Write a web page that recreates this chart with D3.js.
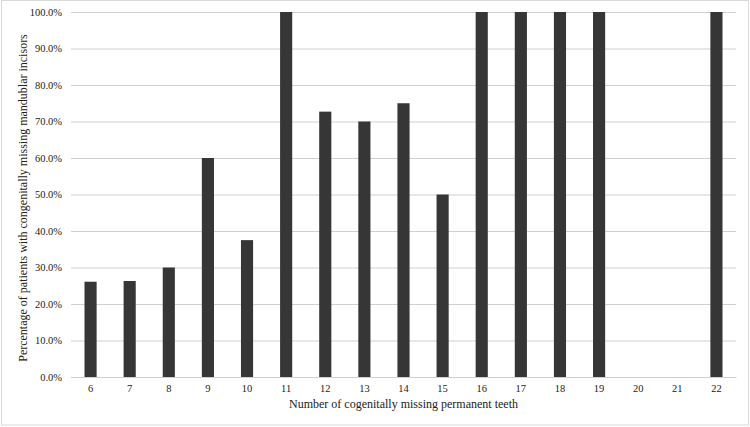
<!DOCTYPE html>
<html>
<head>
<meta charset="utf-8">
<script src="https://cdn.jsdelivr.net/npm/d3@7"></script>
</head>
<body style="margin:0">
<div id="chart"></div>
<script>
// data
const missingTeeth = ['6', '7', '8', '9', '10', '11', '12', '13', '14', '15', '16', '17', '18', '19', '20', '21', '22']
const percentIncisors = [26.1, 26.3, 30.0, 60.0, 37.5, 100, 72.7, 70.0, 75.0, 50.0, 100, 100, 100, 100, 0, 0, 100]
const yTicks = [0, 10, 20, 30, 40, 50, 60, 70, 80, 90, 100]

const width = 750, height = 427
const margin = { top: 12, right: 14, bottom: 50, left: 71 }

const svg = d3.select('#chart').append('svg')
  .attr('width', width)
  .attr('height', height)

// outer frame
svg.append('rect')
  .attr('x', 1.5).attr('y', 0.5)
  .attr('width', width - 3).attr('height', height - 2.5)
  .attr('fill', 'none')
  .attr('stroke', '#d9d9d9')

const x = d3.scaleBand()
  .domain(missingTeeth)
  .range([margin.left, width - margin.right])
  .paddingInner(0.69)
  .paddingOuter(0.345)

const y = d3.scaleLinear()
  .domain([0, 100])
  .range([height - margin.bottom, margin.top])

// gridlines + y labels
const yAxis = svg.append('g')
  .attr('transform', `translate(${margin.left},0)`)
  .call(d3.axisLeft(y).tickValues(yTicks).tickSize(-(width - margin.left - margin.right)).tickFormat(d => d.toFixed(1) + '%'))
  .attr('font-family', 'Liberation Serif')
  .attr('font-size', 10.5)
yAxis.select('.domain').remove()
yAxis.selectAll('line').attr('stroke', '#d0d0d0')
yAxis.selectAll('text')
  .attr('x', -9)
  .attr('fill', '#222')

// bars
svg.selectAll('.bar')
  .data(percentIncisors)
  .enter()
  .append('rect')
  .attr('class', 'bar')
  .attr('x', (d, i) => x(missingTeeth[i]))
  .attr('y', d => y(d))
  .attr('width', x.bandwidth())
  .attr('height', d => y(0) - y(d))
  .attr('fill', '#363636')

// x axis
const xAxis = svg.append('g')
  .attr('transform', `translate(0,${height - margin.bottom})`)
  .call(d3.axisBottom(x).tickSize(0).tickPadding(8))
  .attr('font-family', 'Liberation Serif')
  .attr('font-size', 10.5)
xAxis.select('.domain').attr('stroke', '#d0d0d0')
xAxis.selectAll('text').attr('fill', '#222')

// axis titles
svg.append('text')
  .attr('x', (margin.left + width - margin.right) / 2)
  .attr('y', 408)
  .attr('text-anchor', 'middle')
  .attr('fill', '#222')
  .attr('font-family', 'Liberation Serif')
  .attr('font-size', 12)
  .text('Number of cogenitally missing permanent teeth')

svg.append('text')
  .attr('transform', `translate(27,198) rotate(-90)`)
  .attr('text-anchor', 'middle')
  .attr('fill', '#222')
  .attr('font-family', 'Liberation Serif')
  .attr('font-size', 12)
  .text('Percentage of patients with congenitally missing mandublar incisors')
</script>
</body>
</html>
